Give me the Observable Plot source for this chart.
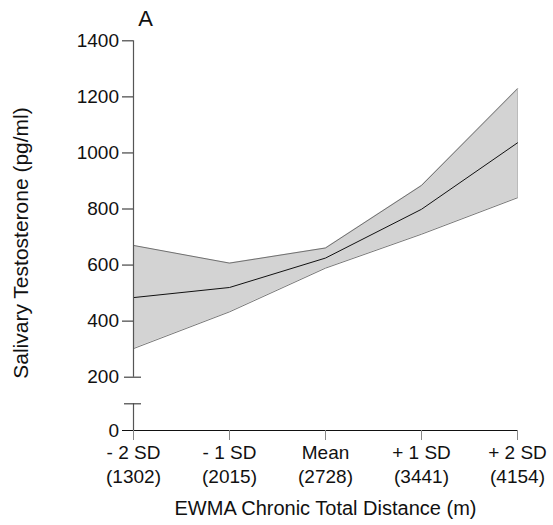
<!DOCTYPE html>
<html><head><meta charset="utf-8">
<script src="https://cdn.jsdelivr.net/npm/d3@7"></script>
<script src="https://cdn.jsdelivr.net/npm/@observablehq/plot@0.6"></script>
<style>body{margin:0;background:#fff}</style>
</head><body><div id="chart"></div>
<script>
const categories = ["- 2 SD", "- 1 SD", "Mean", "+ 1 SD", "+ 2 SD"];
const distances = ["(1302)", "(2015)", "(2728)", "(3441)", "(4154)"];
const meanT = [484, 520, 625, 799, 1036];
const upperT = [670, 607, 661, 884, 1229];
const lowerT = [302, 433, 589, 710, 840];
const yTicks = [400, 600, 800, 1000, 1200, 1400];
const breakTicks = [0, 200];
const breakLow = 100, breakHigh = 200, yMax = 1400;
const panelLabel = "A";
const xTitle = "EWMA Chronic Total Distance (m)";
const yTitle = "Salivary Testosterone (pg/ml)";

const data = categories.map((c, i) => ({c, d: distances[i], mean: meanT[i], upper: upperT[i], lower: lowerT[i]}));
const c0 = categories[0], cN = categories[categories.length - 1];
const font = "'Liberation Sans', Arial, sans-serif";

const chart = Plot.plot({
  width: 553, height: 525,
  marginLeft: 133, marginRight: 36, marginTop: 40, marginBottom: 95,
  style: {fontFamily: font, background: "#fff", color: "#000", overflow: "visible"},
  x: {type: "point", domain: categories, padding: 0, axis: null},
  y: {type: "linear", domain: [0, breakLow, breakHigh, yMax], range: [430, 403.3, 376.7, 40.3], axis: null},
  marks: [
    Plot.areaY(data, {x: "c", y1: "lower", y2: "upper", fill: "#d3d3d3"}),
    Plot.line(data, {x: "c", y: "upper", stroke: "#555", strokeWidth: 0.8}),
    Plot.line(data, {x: "c", y: "lower", stroke: "#555", strokeWidth: 0.8}),
    Plot.ruleX(data.slice(-1), {x: "c", y1: "lower", y2: "upper", stroke: "#aaa", strokeWidth: 0.8}),
    Plot.line(data, {x: "c", y: "mean", stroke: "#111", strokeWidth: 1}),
    // y axis (broken)
    Plot.ruleX([c0], {y1: breakHigh, y2: yMax, stroke: "#555", strokeWidth: 1.2}),
    Plot.ruleX([c0], {y1: 0, y2: breakLow, stroke: "#555", strokeWidth: 1.2}),
    Plot.ruleY(yTicks, {y: d => d, x1: () => c0, x2: () => c0, insetLeft: -11, stroke: "#444", strokeWidth: 1.2}),
    Plot.ruleY([breakHigh, breakLow], {y: d => d, x1: () => c0, x2: () => c0, insetLeft: -9, insetRight: -8, stroke: "#444", strokeWidth: 1.2}),
    Plot.text(yTicks.concat(breakTicks), {x: () => c0, y: d => d, text: d => String(d), textAnchor: "end", dx: -14.5, fontSize: 19, fill: "#111"}),
    // x axis
    Plot.ruleY([0], {y: d => d, x1: () => c0, x2: () => cN, insetLeft: -11, stroke: "#111", strokeWidth: 1.2}),
    Plot.ruleX(categories, {x: d => d, y1: 0, y2: 0, insetBottom: -10, stroke: "#888", strokeWidth: 1}),
    Plot.text(data, {x: "c", y: () => 0, text: d => d.c + "\n" + d.d, lineAnchor: "top", dy: 11, lineHeight: 1.28, fontSize: 19, fill: "#111"}),
    // titles
    Plot.text([xTitle], {frameAnchor: "bottom", text: d => d, lineAnchor: "top", dy: 70, fontSize: 20, fill: "#111"}),
    Plot.text([yTitle], {frameAnchor: "left", text: d => d, rotate: -90, textAnchor: "middle", lineAnchor: "middle", dx: -112.7, dy: 7.5, fontSize: 21, fill: "#111"}),
    Plot.text([panelLabel], {frameAnchor: "top-left", text: d => d, textAnchor: "start", lineAnchor: "top", dx: 4.7, dy: -30, fontSize: 22, fill: "#111"})
  ]
});
document.getElementById("chart").appendChild(chart);
</script>
</body></html>
